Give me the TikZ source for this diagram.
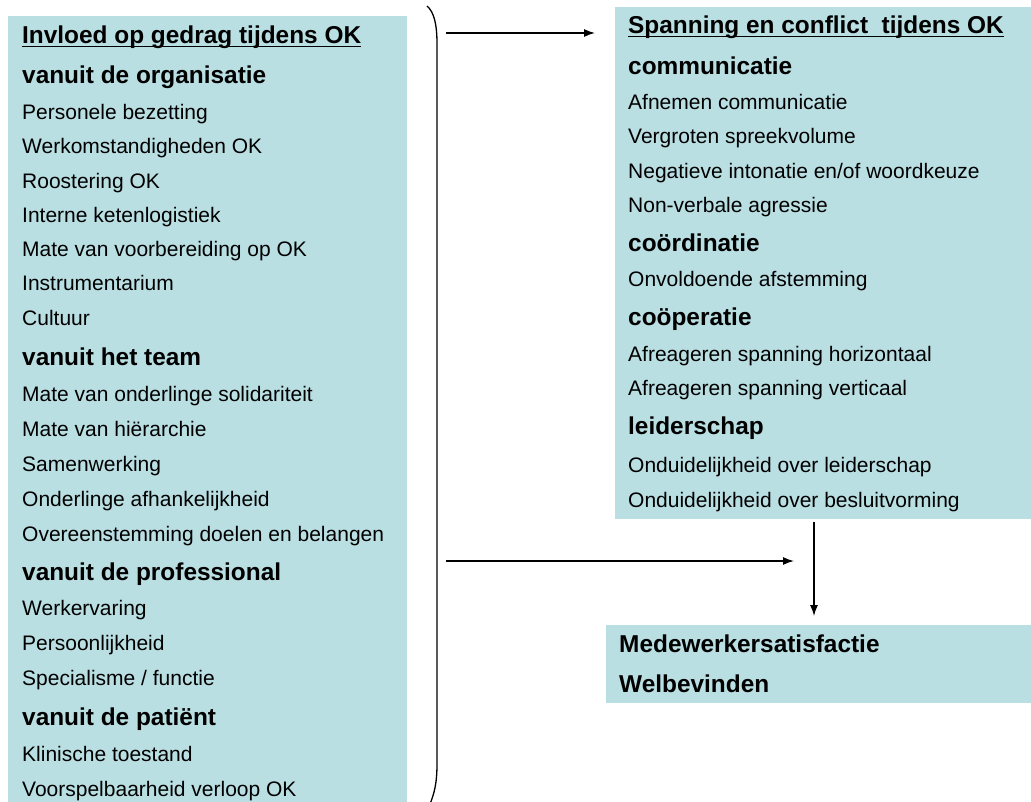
\documentclass[tikz,border=0pt]{standalone}
\usepackage{fontspec}
\setmainfont{Liberation Sans}
\usetikzlibrary{arrows.meta}

\definecolor{vakblauw}{RGB}{185,223,227}

% onderstreepte kop, lijn net onder de basislijn
\newsavebox{\ondbox}
\newcommand{\onderstreept}[1]{\sbox{\ondbox}{#1}\rlap{\rule[-3.5pt]{\wd\ondbox}{1.7pt}}\usebox{\ondbox}}

\tikzset{
  vak/.style   = {fill = vakblauw, draw = none, inner sep = 0, anchor = north west},
  kop/.style   = {anchor = base west, inner sep = 0, font = \fontsize{24.4}{28}\selectfont\bfseries},
  regel/.style = {anchor = base west, inner sep = 0, font = \fontsize{21}{25}\selectfont},
  pijl/.style  = {-{Latex[length = 11pt, width = 8pt]}, line width = 1.3pt},
}

\begin{document}
\begin{tikzpicture}[x = 1pt, y = -1pt]
        \useasboundingbox (0, 0) rectangle (1031, 802);

        % ------------------------------------------------------------------------
        % Vakken
        \node[vak, minimum width = 399, minimum height = 786] at (8, 16) (invloed) {};
        \node[vak, minimum width = 416, minimum height = 512] at (615, 7) (spanning) {};
        \node[vak, minimum width = 425, minimum height = 78] at (606, 625) (uitkomst) {};

        % ------------------------------------------------------------------------
        % Invloed op gedrag
        \node[kop]   at (22,  44) (titel) {\onderstreept{Invloed op gedrag tijdens OK}};

        \node[kop]   at (22,  84) (org) {vanuit de organisatie};
        \node[regel] at (22, 120) (bezetting) {Personele bezetting};
        \node[regel] at (22, 154) (werkomst) {Werkomstandigheden OK};
        \node[regel] at (22, 189) (rooster) {Roostering OK};
        \node[regel] at (22, 223) (keten) {Interne ketenlogistiek};
        \node[regel] at (22, 257) (voorber) {Mate van voorbereiding op OK};
        \node[regel] at (22, 291) (instrum) {Instrumentarium};
        \node[regel] at (22, 326) (cultuur) {Cultuur};

        \node[kop]   at (22, 366) (team) {vanuit het team};
        \node[regel] at (22, 401) (solid) {Mate van onderlinge solidariteit};
        \node[regel] at (22, 436) (hier) {Mate van hiërarchie};
        \node[regel] at (22, 471) (samen) {Samenwerking};
        \node[regel] at (22, 506) (afh) {Onderlinge afhankelijkheid};
        \node[regel] at (22, 541) (doelen) {Overeenstemming doelen en belangen};

        \node[kop]   at (22, 580) (prof) {vanuit de professional};
        \node[regel] at (22, 615) (ervaring) {Werkervaring};
        \node[regel] at (22, 650) (persoon) {Persoonlijkheid};
        \node[regel] at (22, 685) (functie) {Specialisme / functie};

        \node[kop]   at (22, 725) (patient) {vanuit de patiënt};
        \node[regel] at (22, 761) (toestand) {Klinische toestand};
        \node[regel] at (22, 796) (verloop) {Voorspelbaarheid verloop OK};

        % ------------------------------------------------------------------------
        % Spanning en conflict
        \node[kop]   at (628,  34) (titel2) {\onderstreept{Spanning en conflict\ \ tijdens OK}};

        \node[kop]   at (628,  75) (comm) {communicatie};
        \node[regel] at (628, 110) (afnemen) {Afnemen communicatie};
        \node[regel] at (628, 144) (volume) {Vergroten spreekvolume};
        \node[regel] at (628, 179) (intonatie) {Negatieve intonatie en/of woordkeuze};
        \node[regel] at (628, 213) (nonverb) {Non-verbale agressie};

        \node[kop]   at (628, 252) (coord) {coördinatie};
        \node[regel] at (628, 287) (afstem) {Onvoldoende afstemming};

        \node[kop]   at (628, 326) (coop) {coöperatie};
        \node[regel] at (628, 361) (horiz) {Afreageren spanning horizontaal};
        \node[regel] at (628, 395) (vert) {Afreageren spanning verticaal};

        \node[kop]   at (628, 434) (leider) {leiderschap};
        \node[regel] at (628, 472) (ondleider) {Onduidelijkheid over leiderschap};
        \node[regel] at (628, 507) (ondbesluit) {Onduidelijkheid over besluitvorming};

        % ------------------------------------------------------------------------
        % Uitkomst
        \node[kop] at (619, 652) (satisf) {Medewerkersatisfactie};
        \node[kop] at (619, 692) (welbev) {Welbevinden};

        % ------------------------------------------------------------------------
        % Haak en pijlen
        \draw[line width = 1.3pt]
          (427, 6) .. controls (434, 12) and (437, 24) .. (437, 44)
          -- (437, 764) .. controls (437, 784) and (434, 794) .. (430, 804)
        ;

        \coordinate (bovenpijl) at (446, 33);
        \coordinate (middenpijl) at (446, 561);
        \coordinate (neerpijl) at (814, 522);

        \draw[pijl, shorten >= 20pt] (bovenpijl) -- (bovenpijl -| spanning.west);
        \draw[pijl, shorten >= 20pt] (middenpijl) -- (middenpijl -| neerpijl);
        \draw[pijl, shorten >= 9pt] (neerpijl) -- (neerpijl |- uitkomst.north);
      \end{tikzpicture}
\end{document}
